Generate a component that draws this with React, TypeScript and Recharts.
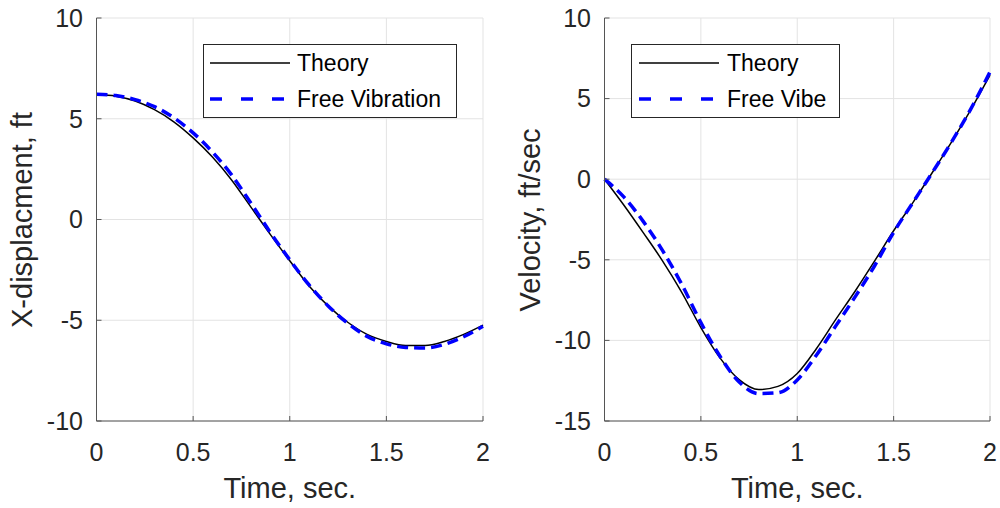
import { LineChart, Line, XAxis, YAxis, CartesianGrid, Legend } from "recharts";

const time = [0, 0.1, 0.2, 0.3, 0.4, 0.5, 0.6, 0.7, 0.8, 0.9, 1.0, 1.1, 1.2, 1.3, 1.4, 1.5, 1.6, 1.7, 1.8, 1.9, 2.0];

const theoryX = [6.2, 6.12, 5.88, 5.45, 4.85, 4.05, 3.1, 1.95, 0.6, -0.75, -2.05, -3.3, -4.3, -5.1, -5.7, -6.05, -6.25, -6.25, -6.05, -5.7, -5.24];
const freeX = [6.22, 6.15, 5.95, 5.6, 5.05, 4.3, 3.35, 2.2, 0.8, -0.65, -2.0, -3.25, -4.3, -5.15, -5.8, -6.17, -6.35, -6.38, -6.2, -5.82, -5.3];

const theoryV = [0, -1.6, -3.3, -5.05, -7.0, -9.2, -11.1, -12.45, -13.05, -12.85, -12.05, -10.5, -8.7, -6.95, -5.1, -3.2, -1.45, 0.4, 2.3, 4.3, 6.45];
const freeV = [0, -1.1, -2.6, -4.4, -6.5, -8.9, -11.0, -12.6, -13.3, -13.25, -12.45, -10.9, -9.1, -7.3, -5.4, -3.3, -1.45, 0.4, 2.3, 4.35, 6.65];

const xTicks = [0, 0.5, 1, 1.5, 2];
const leftTicks = [-10, -5, 0, 5, 10];
const rightTicks = [-15, -10, -5, 0, 5, 10];

const dispData = time.map((t, i) => ({ t, theory: theoryX[i], free: freeX[i] }));
const velData = time.map((t, i) => ({ t, theory: theoryV[i], free: freeV[i] }));

const ink = "#262626";
const font = "Liberation Sans, Arial, sans-serif";
const tickStyle = { fontSize: 25, fill: ink, fontFamily: font };

function LegendBox({ width, lineX, textX, label }: any) {
  return (
    <svg width={width} height={74} style={{ display: "block" }}>
      <rect x={0.5} y={0.5} width={width - 1} height={73} fill="#fff" stroke={ink} strokeWidth={1} />
      <line x1={lineX} x2={lineX + 80} y1={19} y2={19} stroke="#000" strokeWidth={1.5} />
      <text x={textX} y={19} dy="0.35em" fontSize={23} fill="#000" fontFamily={font}>Theory</text>
      <line x1={lineX} x2={lineX + 80} y1={55} y2={55} stroke="#0000ff" strokeWidth={3.5} strokeDasharray="12 19" />
      <text x={textX} y={55} dy="0.35em" fontSize={23} fill="#000" fontFamily={font}>{label}</text>
    </svg>
  );
}

function YLabel({ cx, text }: any) {
  return () => (
    <text x={cx} y={220} transform={`rotate(-90 ${cx} 220)`} textAnchor="middle" dominantBaseline="central"
      fontSize={29} fill={ink} fontFamily={font}>{text}</text>
  );
}

function Panel({ data, yDomain, yTicks, yWidth, marginRight, yLabel, labelX, legendLeft, legendWidth, legendLineX, legendTextX, legendLabel }: any) {
  return (
    <LineChart width={500} height={508} data={data} margin={{ top: 18, right: marginRight, left: 0, bottom: 0 }}>
      <CartesianGrid stroke="#e3e3e3" strokeWidth={1} />
      <XAxis dataKey="t" type="number" domain={[0, 2]} ticks={xTicks} height={87}
        stroke="#555" tick={tickStyle} tickSize={-5} tickMargin={27} interval={0}
        label={{ value: "Time, sec.", position: "insideBottom", offset: 10, fontSize: 29, fill: ink, fontFamily: font }} />
      <XAxis xAxisId="top" orientation="top" dataKey="t" type="number" domain={[0, 2]} ticks={xTicks}
        height={0} stroke="#555" tick={false} tickSize={-5} />
      <YAxis domain={yDomain} ticks={yTicks} width={yWidth} stroke="#555" tick={tickStyle}
        tickSize={-5} tickMargin={18.5} interval={0} label={{ content: YLabel({ cx: labelX, text: yLabel }) }} />
      <YAxis yAxisId="right" orientation="right" domain={yDomain} ticks={yTicks} width={0}
        stroke="#555" tick={false} tickSize={-5} />
      <Legend layout="vertical" align="center" verticalAlign="middle"
        wrapperStyle={{ position: "absolute", left: legendLeft, top: 44, width: legendWidth }}
        content={() => <LegendBox width={legendWidth} lineX={legendLineX} textX={legendTextX} label={legendLabel} />} />
      <Line dataKey="theory" type="monotone" stroke="#000" strokeWidth={1.5} dot={false} isAnimationActive={false} />
      <Line dataKey="free" type="monotone" stroke="#0000ff" strokeWidth={3.5} strokeDasharray="11 6" dot={false} isAnimationActive={false} />
    </LineChart>
  );
}

export default function App() {
  return (
    <div style={{ position: "absolute", left: 0, top: 0, width: 1000, height: 508, background: "#fff", display: "flex" }}>
      <Panel data={dispData} yDomain={[-10, 10]} yTicks={leftTicks} yWidth={96.5} marginRight={17}
        yLabel="X-displacment, ft" labelX={22} legendLeft={203} legendWidth={254} legendLineX={7} legendTextX={94}
        legendLabel="Free Vibration" />
      <Panel data={velData} yDomain={[-15, 10]} yTicks={rightTicks} yWidth={104.5} marginRight={10}
        yLabel="Velocity, ft/sec" labelX={30} legendLeft={131} legendWidth={209} legendLineX={8} legendTextX={96}
        legendLabel="Free Vibe" />
    </div>
  );
}
